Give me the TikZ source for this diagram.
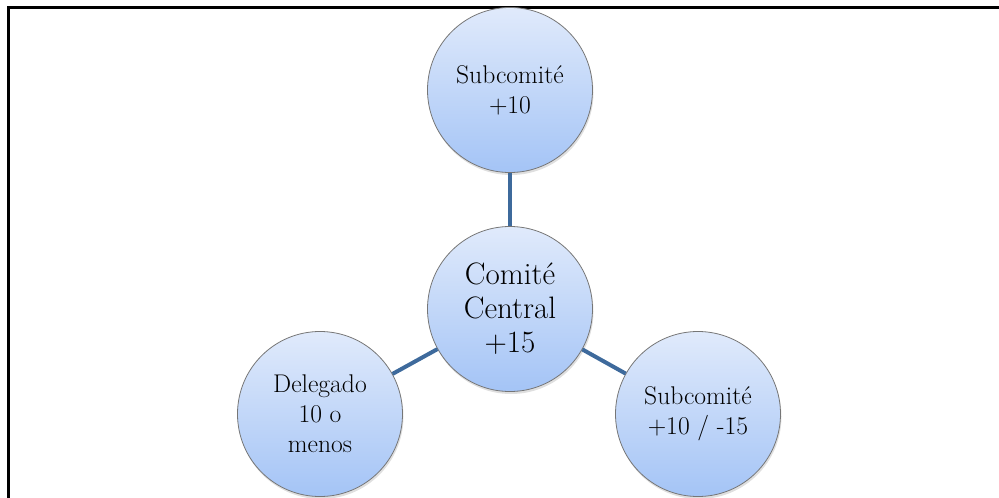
\documentclass[tikz,border=0pt]{standalone}
\usetikzlibrary{shadows}
\definecolor{linkblue}{RGB}{62,106,156}
\definecolor{circtop}{RGB}{224,234,251}
\definecolor{circbot}{RGB}{164,196,246}
\definecolor{circedge}{RGB}{118,118,118}
\tikzset{
  bubble/.style={circle, minimum size=165pt, inner sep=0pt, align=center,
    draw=circedge, line width=0.8pt, top color=circtop, bottom color=circbot,
    drop shadow={opacity=0.25, shadow xshift=1pt, shadow yshift=-2.5pt}},
  smalltext/.style={font=\fontsize{25.6}{30}\selectfont},
  bigtext/.style={font=\fontsize{31}{34}\selectfont},
  link/.style={draw=linkblue, line width=4pt},
  frameline/.style={draw=black, line width=3pt}
}
\begin{document}
\begin{tikzpicture}[x=1pt,y=-1pt]
\useasboundingbox (0,0) rectangle (999,498);
\begin{scope}
\clip (0,0) rectangle (999,498);
\coordinate (fa) at (8.5,498);
\coordinate (fb) at (8.5,7.5);
\coordinate (fc) at (999,7.5);
\draw[frameline] (fa) -- (fb) -- (fc);
\node[bubble, smalltext] (top) at (510,90) {Subcomité\\+10};
\node[bubble, bigtext] (ctr) at (510,309) {Comité\\Central\\+15};
\node[bubble, smalltext] (lft) at (320,414) {Delegado\\10 o\\menos};
\node[bubble, smalltext] (rgt) at (698,414) {Subcomité\\+10 / -15};
\draw[link] (ctr) -- (top);
\draw[link] (ctr) -- (lft);
\draw[link] (ctr) -- (rgt);
\end{scope}
\end{tikzpicture}
\end{document}
